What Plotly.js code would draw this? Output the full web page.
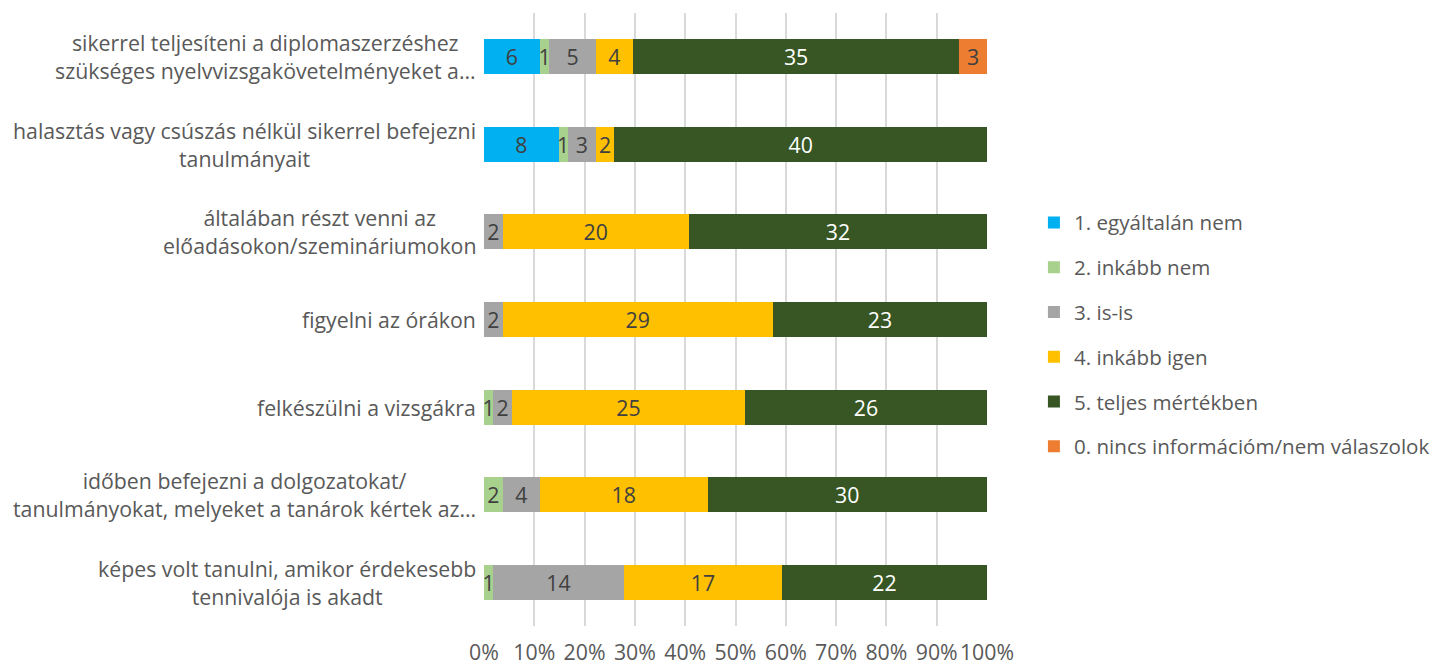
<!DOCTYPE html>
<html>
<head>
<meta charset="utf-8">
<script src="https://cdn.plot.ly/plotly-3.0.1.min.js"></script>
<style>
  html, body { margin: 0; padding: 0; background: #ffffff; }
  #chart { width: 1439px; height: 665px; }
</style>
</head>
<body>
<div id="chart"></div>
<script>
// Categories (top to bottom)
const categories = [
  "sikerrel teljesíteni a diplomaszerzéshez<br>szükséges nyelvvizsgakövetelményeket a…",
  "halasztás vagy csúszás nélkül sikerrel befejezni<br>tanulmányait",
  "általában részt venni az<br>előadásokon/szemináriumokon",
  "figyelni az órákon",
  "felkészülni a vizsgákra",
  "időben befejezni a dolgozatokat/<br>tanulmányokat, melyeket a tanárok kértek az…",
  "képes volt tanulni, amikor érdekesebb<br>tennivalója is akadt"
];

const seriesNames = [
  "1. egyáltalán nem",
  "2. inkább nem",
  "3. is-is",
  "4. inkább igen",
  "5. teljes mértékben",
  "0. nincs információm/nem válaszolok"
];

// Counts per category (same order as categories)
const s1_egyaltalanNem   = [6, 8, 0, 0, 0, 0, 0];
const s2_inkabbNem       = [1, 1, 0, 0, 1, 2, 1];
const s3_isIs            = [5, 3, 2, 2, 2, 4, 14];
const s4_inkabbIgen      = [4, 2, 20, 29, 25, 18, 17];
const s5_teljesMertekben = [35, 40, 32, 23, 26, 30, 22];
const s0_nincsInfo       = [3, 0, 0, 0, 0, 0, 0];

const xTickVals = [0, 10, 20, 30, 40, 50, 60, 70, 80, 90, 100];

const seriesValues = [s1_egyaltalanNem, s2_inkabbNem, s3_isIs, s4_inkabbIgen, s5_teljesMertekben, s0_nincsInfo];
const seriesColors = ["#00B0F0", "#A9D18E", "#A5A5A5", "#FFC000", "#375623", "#ED7D31"];
const labelColors  = ["#404040", "#404040", "#404040", "#404040", "#FFFFFF", "#404040"];

const FONT = "'Open Sans', sans-serif";
const FS = 21.3;
const LEGEND_FS = 20.6;

const traces = seriesValues.map((vals, i) => ({
  type: "bar",
  orientation: "h",
  name: seriesNames[i],
  legendgroup: "g" + i,
  y: categories,
  x: vals,
  text: vals.map(v => v > 0 ? String(v) : ""),
  textposition: "inside",
  insidetextanchor: "middle",
  constraintext: "none",
  textfont: { family: FONT, size: FS, color: labelColors[i] },
  marker: { color: seriesColors[i], line: { width: 0 } },
  hoverinfo: "name+x"
}));

const annotations = categories.map(c => ({
  xref: "paper", yref: "y",
  x: 0, y: c,
  xanchor: "right", yanchor: "middle",
  xshift: -6,
  align: "center",
  showarrow: false,
  text: c,
  font: { family: FONT, size: FS, color: "#595959" }
}));

const layout = {
  width: 1439,
  height: 665,
  margin: { l: 484, r: 452, t: 13, b: 39, pad: 0, autoexpand: false },
  paper_bgcolor: "#ffffff",
  plot_bgcolor: "#ffffff",
  barmode: "stack",
  barnorm: "percent",
  bargap: 0.6,
  showlegend: true,
  legend: {
    xref: "container", yref: "container",
    x: 0.7185, xanchor: "left",
    y: 0.497, yanchor: "middle",
    traceorder: "grouped",
    tracegroupgap: 15,
    font: { family: FONT, size: LEGEND_FS, color: "#595959" },
    bgcolor: "rgba(0,0,0,0)"
  },
  xaxis: {
    range: [0, 100],
    tickvals: xTickVals,
    ticktext: xTickVals.map(v => v + "%"),
    tickangle: 0,
    automargin: false,
    showgrid: true,
    gridcolor: "#D9D9D9",
    gridwidth: 1.5,
    zeroline: false,
    showline: false,
    ticks: "",
    ticklabelstandoff: 12,
    tickfont: { family: FONT, size: FS, color: "#595959" },
    fixedrange: true
  },
  yaxis: {
    type: "category",
    categoryorder: "array",
    categoryarray: categories,
    autorange: "reversed",
    automargin: false,
    showticklabels: false,
    showgrid: false,
    zeroline: false,
    showline: false,
    ticks: "",
    fixedrange: true
  },
  annotations: annotations,
  font: { family: FONT, color: "#595959" }
};

Plotly.newPlot("chart", traces, layout, { displayModeBar: false, responsive: false });
</script>
</body>
</html>
